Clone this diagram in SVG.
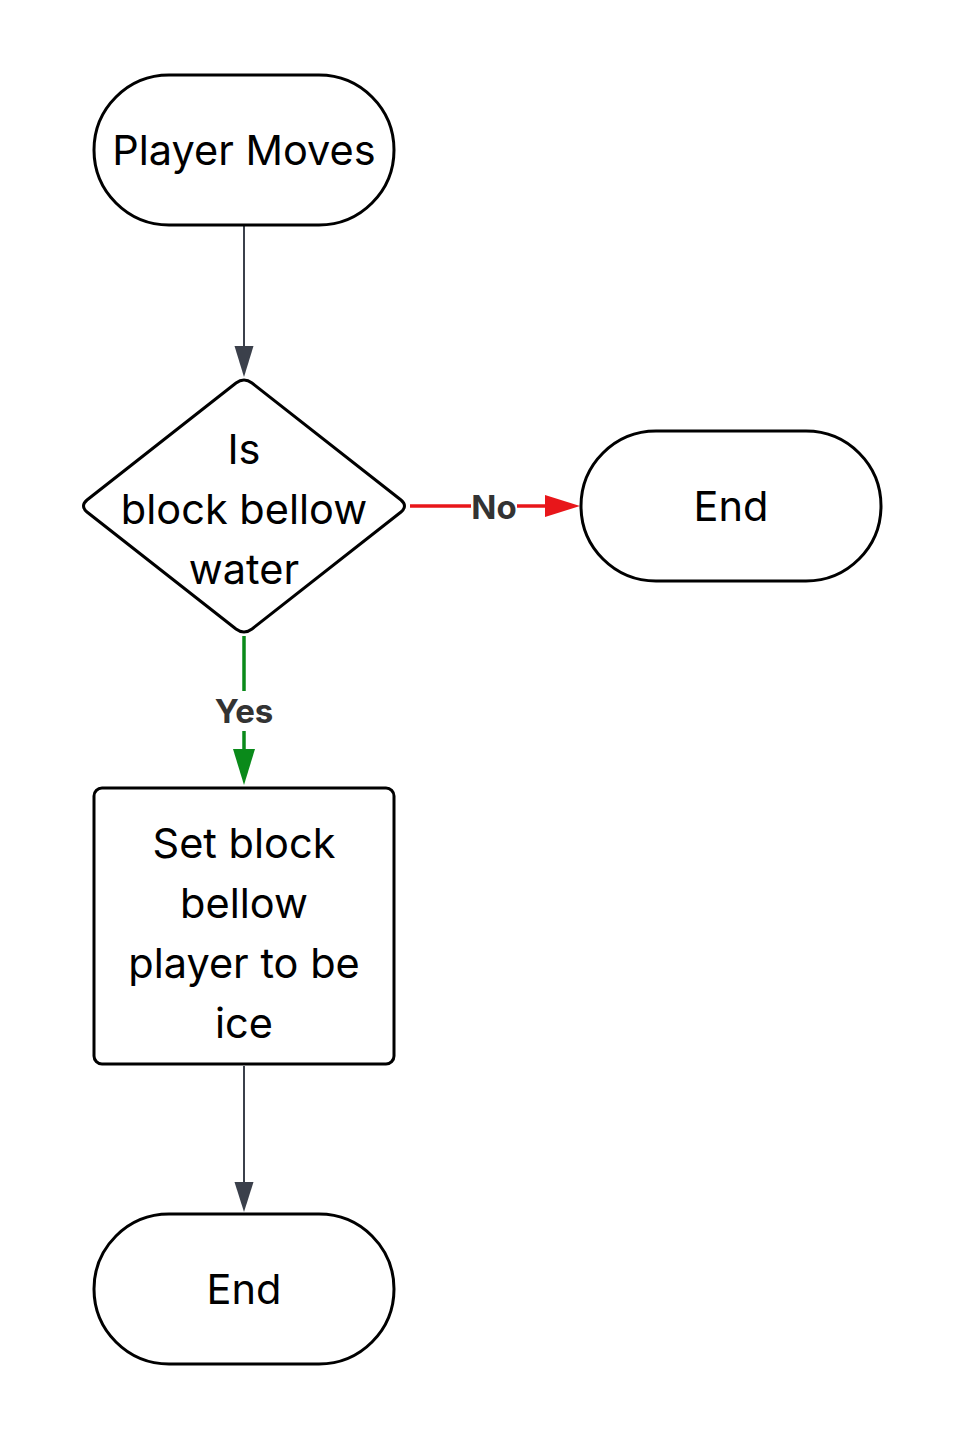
<svg xmlns="http://www.w3.org/2000/svg" width="956" height="1440" viewBox="0 0 956 1440">
<defs>
<style>
.node{fill:#fff;stroke:#000;stroke-width:3}
.t{font-family:Inter,"Liberation Sans",sans-serif;font-size:41.5px;fill:#000;text-anchor:middle;dominant-baseline:central}
.lbl{font-family:Inter,"Liberation Sans",sans-serif;font-size:33px;font-weight:bold;fill:#333;text-anchor:middle;dominant-baseline:central}
.e{fill:none;stroke:#3b404b;stroke-width:2}
</style>
</defs>
<rect width="956" height="1440" fill="#fff"/>
<g id="connectors">
<line class="e" x1="244" y1="226" x2="244" y2="347"/>
<path d="M234.5,346L253.5,346L244,377Z" fill="#3b404b"/>
<line x1="410" y1="506" x2="546" y2="506" stroke="#e8161a" stroke-width="3.5"/>
<path d="M545,495L545,517L580,506Z" fill="#e8161a"/>
<rect x="471" y="489" width="46" height="34" fill="#fff"/>
<text class="lbl" x="494" y="507">No</text>
<line x1="244" y1="636" x2="244" y2="750" stroke="#0a8a1a" stroke-width="3.5"/>
<path d="M233,749L255,749L244,785Z" fill="#0a8a1a"/>
<rect x="211" y="691" width="66" height="40" fill="#fff"/>
<text class="lbl" x="244" y="711">Yes</text>
<line class="e" x1="244" y1="1066" x2="244" y2="1183"/>
<path d="M234.5,1182L253.5,1182L244,1212Z" fill="#3b404b"/>
</g>
<g id="start">
<rect class="node" x="94" y="75" width="300" height="150" rx="75"/>
<text class="t" x="244" y="150">Player Moves</text>
</g>
<g id="decision">
<path class="node" stroke-width="3.2" d="M236,383Q244,377 252,383L401,500Q408,506 401,512L252,629Q244,635 236,629L87,512Q80,506 87,500Z"/>
<text class="t" x="244" y="449">Is</text>
<text class="t" x="244" y="509">block bellow</text>
<text class="t" x="244" y="569">water</text>
</g>
<g id="end1">
<rect class="node" x="581" y="431" width="300" height="150" rx="75"/>
<text class="t" x="731" y="506">End</text>
</g>
<g id="process">
<rect class="node" x="94" y="788" width="300" height="276" rx="8"/>
<text class="t" x="244" y="843">Set block</text>
<text class="t" x="244" y="903">bellow</text>
<text class="t" x="244" y="963">player to be</text>
<text class="t" x="244" y="1023">ice</text>
</g>
<g id="end2">
<rect class="node" x="94" y="1214" width="300" height="150" rx="75"/>
<text class="t" x="244" y="1289">End</text>
</g>
</svg>
